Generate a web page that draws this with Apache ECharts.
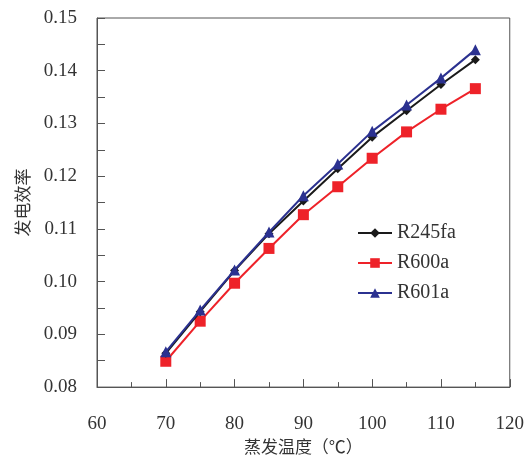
<!DOCTYPE html>
<html>
<head>
<meta charset="utf-8">
<script src="https://cdn.jsdelivr.net/npm/echarts@6/dist/echarts.min.js"></script>
<style>
html,body{margin:0;padding:0;background:#fff;}
#chart{width:527px;height:460px;}
</style>
</head>
<body>
<div id="chart"></div>
<script>
var temps = [70, 75, 80, 85, 90, 95, 100, 105, 110, 115];
var r245fa = [0.0864, 0.0943, 0.1021, 0.1091, 0.1153, 0.1214, 0.1274, 0.1324, 0.1374, 0.1421];
var r600a  = [0.0849, 0.0925, 0.0997, 0.1063, 0.1127, 0.1180, 0.1234, 0.1284, 0.1327, 0.1366];
var r601a  = [0.0867, 0.0946, 0.1022, 0.1094, 0.1163, 0.1223, 0.1285, 0.1335, 0.1386, 0.1440];
var seriesNames = ['R245fa', 'R600a', 'R601a'];
var xTicks = [60, 70, 80, 90, 100, 110, 120];
var yTicks = [0.08, 0.09, 0.10, 0.11, 0.12, 0.13, 0.14, 0.15];

function pairs(vals){ return temps.map(function(t,i){ return [t, vals[i]]; }); }

var serif = 'Times New Roman, Liberation Serif, DejaVu Serif, serif';
var cjk = 'Noto Sans CJK SC';
var axisColor = '#555';

var chart = echarts.init(document.getElementById('chart'));
chart.setOption({
  backgroundColor: '#fff',
  animation: false,
  grid: { left: 97, right: 15, top: 18, bottom: 68, show: true, borderColor: axisColor, borderWidth: 1, backgroundColor: 'transparent' },
  legend: {
    orient: 'vertical',
    left: 352, top: 218,
    itemWidth: 34, itemHeight: 12, itemGap: 10,
    textStyle: { fontFamily: serif, fontSize: 20, color: '#333' },
    data: seriesNames
  },
  xAxis: {
    type: 'value',
    min: xTicks[0], max: xTicks[xTicks.length-1], interval: 10,
    name: '蒸发温度（℃）', nameLocation: 'middle', nameGap: 45,
    nameTextStyle: { fontFamily: cjk, fontSize: 17, color: '#333' },
    axisLine: { show: true, lineStyle: { color: axisColor, width: 1 } },
    axisTick: { show: true, inside: true, length: 8, lineStyle: { color: axisColor } },
    minorTick: { show: true, splitNumber: 2, length: 5, lineStyle: { color: axisColor } },
    splitLine: { show: false },
    axisLabel: { fontFamily: serif, fontSize: 19, color: '#333', margin: 27 }
  },
  yAxis: {
    type: 'value',
    min: yTicks[0], max: yTicks[yTicks.length-1], interval: 0.01,
    name: '发电效率', nameLocation: 'middle', nameGap: 66,
    nameTextStyle: { fontFamily: cjk, fontSize: 17, color: '#333' },
    axisLine: { show: true, lineStyle: { color: axisColor, width: 1 } },
    axisTick: { show: true, inside: true, length: 8, lineStyle: { color: axisColor } },
    minorTick: { show: true, splitNumber: 2, length: 8, lineStyle: { color: axisColor } },
    splitLine: { show: false },
    axisLabel: { fontFamily: serif, fontSize: 19, color: '#333', margin: 20,
      formatter: function(v){ return v.toFixed(2); } }
  },
  series: [
    { name: seriesNames[0], type: 'line', data: pairs(r245fa), symbol: 'diamond', symbolSize: 9,
      lineStyle: { color: '#1a1a1a', width: 2 }, itemStyle: { color: '#1a1a1a' }, z: 3 },
    { name: seriesNames[1], type: 'line', data: pairs(r600a), symbol: 'rect', symbolSize: 11,
      lineStyle: { color: '#ee2229', width: 2 }, itemStyle: { color: '#ee2229' }, z: 2 },
    { name: seriesNames[2], type: 'line', data: pairs(r601a), symbol: 'triangle', symbolSize: 11,
      lineStyle: { color: '#2b3190', width: 2 }, itemStyle: { color: '#2b3190' }, z: 4 }
  ]
});
</script>
</body>
</html>
